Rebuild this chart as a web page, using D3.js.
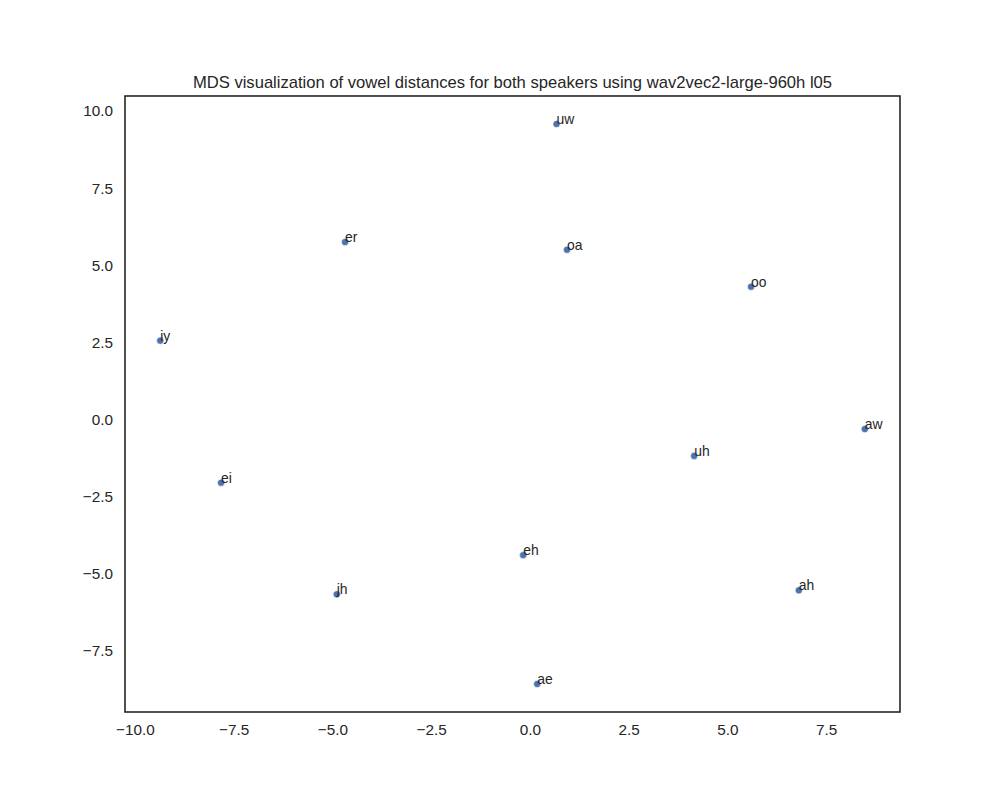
<!DOCTYPE html>
<html>
<head>
<meta charset="utf-8">
<script src="https://cdn.jsdelivr.net/npm/d3@7"></script>
<style>
  body { margin: 0; background: #fff; }
  text { font-family: "Liberation Sans", Arial, sans-serif; fill: #262626; }
</style>
</head>
<body>
<div id="chart"></div>
<script>
// vowel labels and their MDS coordinates
var vowels = ["uw", "er", "oa", "oo", "iy", "aw", "uh", "ei", "eh", "ah", "jh", "ae"];
var xs = [0.675, -4.68, 0.94, 5.60, -9.36, 8.48, 4.16, -7.82, -0.17, 6.81, -4.89, 0.185];
var ys = [9.58, 5.75, 5.50, 4.30, 2.55, -0.32, -1.19, -2.06, -4.41, -5.55, -5.68, -8.59];
var xTicks = [-10, -7.5, -5, -2.5, 0, 2.5, 5, 7.5];
var yTicks = [-7.5, -5, -2.5, 0, 2.5, 5, 7.5, 10];
var title = "MDS visualization of vowel distances for both speakers using wav2vec2-large-960h l05";

var W = 1000, H = 800,
    margin = {top: 96, right: 100, bottom: 88, left: 125},
    width = W - margin.left - margin.right,
    height = H - margin.top - margin.bottom;

// matplotlib style 5% margins
function padded(arr) {
  var lo = d3.min(arr), hi = d3.max(arr), pad = (hi - lo) * 0.05;
  return [lo - pad, hi + pad];
}

var x = d3.scaleLinear().domain(padded(xs)).range([0, width]);
var y = d3.scaleLinear().domain(padded(ys)).range([height, 0]);

var svg = d3.select("#chart").append("svg")
    .attr("width", W)
    .attr("height", H)
  .append("g")
    .attr("transform", "translate(" + margin.left + "," + margin.top + ")");

var fmt = function(d) { return d3.format(".1f")(d).replace("-", "\u2212"); };
var xAxis = d3.axisBottom(x).tickValues(xTicks).tickSize(0).tickPadding(12).tickFormat(fmt);
var yAxis = d3.axisLeft(y).tickValues(yTicks).tickSize(0).tickPadding(12).tickFormat(fmt);

svg.append("g")
    .attr("transform", "translate(0," + height + ")")
    .call(xAxis)
    .call(function(g) { g.select(".domain").remove(); })
    .selectAll("text").style("font-size", "15.3px").attr("fill", "#262626");

svg.append("g")
    .call(yAxis)
    .call(function(g) { g.select(".domain").remove(); })
    .selectAll("text").style("font-size", "15.3px").attr("fill", "#262626");

// points
var idx = d3.range(vowels.length);
svg.selectAll(".dot")
    .data(idx)
  .enter().append("circle")
    .attr("class", "dot")
    .attr("cx", function(i) { return x(xs[i]); })
    .attr("cy", function(i) { return y(ys[i]); })
    .attr("r", 3.6)
    .attr("fill", "#4c72b0")
    .attr("stroke", "#fff")
    .attr("stroke-width", 0.6);

// labels
svg.selectAll(".lbl")
    .data(idx)
  .enter().append("text")
    .attr("class", "lbl")
    .attr("x", function(i) { return x(xs[i]); })
    .attr("y", function(i) { return y(ys[i]); })
    .style("font-size", "13.9px")
    .text(function(i) { return vowels[i]; });

// frame
svg.append("rect")
    .attr("width", width)
    .attr("height", height)
    .attr("fill", "none")
    .attr("stroke", "#262626")
    .attr("stroke-width", 1.6);

svg.append("text")
    .attr("x", width / 2)
    .attr("y", -8)
    .attr("text-anchor", "middle")
    .style("font-size", "16.6px")
    .text(title);
</script>
</body>
</html>
